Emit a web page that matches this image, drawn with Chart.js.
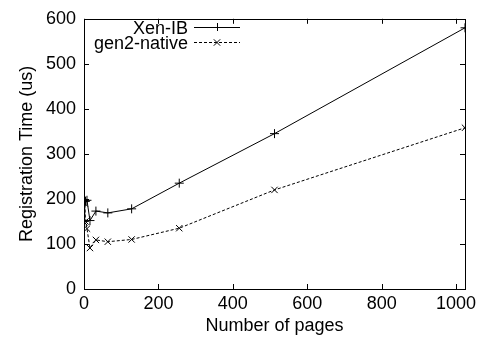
<!DOCTYPE html>
<html><head><meta charset="utf-8">
<script src="https://cdn.jsdelivr.net/npm/chart.js@4.4.0/dist/chart.umd.min.js"></script>
<style>html,body{margin:0;padding:0;background:#fff;}#wrap{width:481px;height:339px;}</style>
</head><body><div id="wrap"><canvas id="c" width="481" height="339"></canvas></div>
<script>
const pages = [1, 2, 4, 8, 16, 32, 64, 128, 256, 512, 1024];
const xenIB = [150, 195, 195, 197, 152, 173, 169, 178, 235, 345, 580];
const gen2Native = [148, 190, 150, 134, 91, 109, 105, 110, 135, 220, 358];
const seriesNames = ['Xen-IB', 'gen2-native'];
const xTickValues = [0, 200, 400, 600, 800, 1000];
const yTickValues = [0, 100, 200, 300, 400, 500, 600];
const xTitle = 'Number of pages';
const yTitle = 'Registration Time (us)';

const FONT = '"Liberation Sans", Arial, Helvetica, sans-serif';
const FS = 18;

const framePlugin = {
  id: 'frame',
  afterDraw(chart) {
    const {ctx, chartArea: a, scales} = chart;
    ctx.save();
    ctx.strokeStyle = '#000';
    ctx.lineWidth = 1;
    ctx.strokeRect(Math.round(a.left) + 0.5, Math.round(a.top) + 0.5, Math.round(a.right - a.left), Math.round(a.bottom - a.top));
    const L = 5;
    ctx.beginPath();
    scales.x.ticks.forEach(t => {
      const px = Math.round(scales.x.getPixelForValue(t.value)) + 0.5;
      ctx.moveTo(px, a.bottom); ctx.lineTo(px, a.bottom - L);
      ctx.moveTo(px, a.top); ctx.lineTo(px, a.top + L);
    });
    scales.y.ticks.forEach(t => {
      const py = Math.round(scales.y.getPixelForValue(t.value)) + 0.5;
      ctx.moveTo(a.left, py); ctx.lineTo(a.left + L, py);
      ctx.moveTo(a.right, py); ctx.lineTo(a.right - L, py);
    });
    ctx.stroke();
    // legend
    ctx.font = FS + 'px ' + FONT;
    ctx.textAlign = 'right';
    ctx.textBaseline = 'alphabetic';
    ctx.fillStyle = '#000';
    chart.data.datasets.forEach((ds, i) => {
      const y = 27 + i * 15;
      ctx.fillText(ds.label, 188, y + 6.5);
      ctx.beginPath();
      ctx.setLineDash(ds.borderDash || []);
      ctx.moveTo(194, y + 0.5); ctx.lineTo(240, y + 0.5);
      ctx.stroke();
      ctx.setLineDash([]);
      const r = 4, cx = 217;
      ctx.beginPath();
      if (ds.pointStyle === 'cross') {
        ctx.moveTo(cx - r, y + 0.5); ctx.lineTo(cx + r, y + 0.5);
        ctx.moveTo(cx + 0.5, y - r); ctx.lineTo(cx + 0.5, y + r);
      } else {
        const d = r * 0.8;
        ctx.moveTo(cx - d, y + 0.5 - d); ctx.lineTo(cx + d, y + 0.5 + d);
        ctx.moveTo(cx - d, y + 0.5 + d); ctx.lineTo(cx + d, y + 0.5 - d);
      }
      ctx.stroke();
    });
    ctx.restore();
  }
};

new Chart(document.getElementById('c'), {
  type: 'line',
  data: {
    datasets: [
      {label: seriesNames[0], data: pages.map((p, i) => ({x: p, y: xenIB[i]})),
       borderColor: '#000', backgroundColor: '#000', borderWidth: 1, pointStyle: 'cross',
       pointRadius: 4.5, pointBorderWidth: 1, pointBorderColor: '#000', tension: 0},
      {label: seriesNames[1], data: pages.map((p, i) => ({x: p, y: gen2Native[i]})),
       borderColor: '#000', backgroundColor: '#000', borderWidth: 1, borderDash: [3, 2], pointStyle: 'crossRot',
       pointRadius: 4.5, pointBorderWidth: 1, pointBorderColor: '#000', tension: 0}
    ]
  },
  options: {
    responsive: false, animation: false, devicePixelRatio: 1,
    layout: {padding: {top: 15, right: 16, left: 16, bottom: 2}},
    plugins: {legend: {display: false}, tooltip: {enabled: false}},
    scales: {
      x: {type: 'linear', min: 0, max: 1024,
          afterBuildTicks(s) { s.ticks = xTickValues.map(v => ({value: v})); },
          ticks: {color: '#000', font: {family: FONT, size: FS}, padding: 4, maxRotation: 0, autoSkip: false,
                  callback: v => String(v)},
          grid: {display: false, drawTicks: false}, border: {display: false},
          title: {display: true, text: xTitle, color: '#000', font: {family: FONT, size: FS}, padding: {top: 0, bottom: 0}},
          afterFit(s) { s.height = 48; }},
      y: {min: 0, max: 600,
          afterBuildTicks(s) { s.ticks = yTickValues.map(v => ({value: v})); },
          ticks: {color: '#000', font: {family: FONT, size: FS}, padding: 8, callback: v => String(v)},
          grid: {display: false, drawTicks: false}, border: {display: false},
          title: {display: true, text: yTitle, color: '#000', font: {family: FONT, size: FS}, padding: {top: 0, bottom: 0}},
          afterFit(s) { s.width = 68; }}
    }
  },
  plugins: [framePlugin]
});
</script></body></html>
